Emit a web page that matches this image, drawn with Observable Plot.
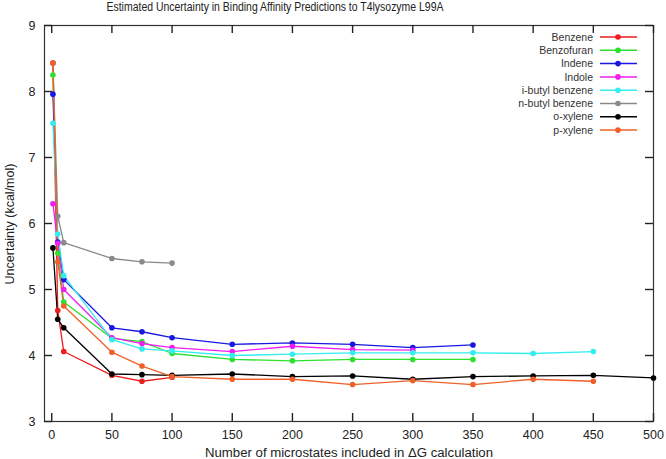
<!DOCTYPE html>
<html><head><meta charset="utf-8">
<script src="https://cdn.jsdelivr.net/npm/d3@7"></script>
<script src="https://cdn.jsdelivr.net/npm/@observablehq/plot@0.6"></script>
<style>body{margin:0;background:#fff;} #chart svg{display:block;}</style>
</head><body><div id="chart"></div>
<script>
const series = ["Benzene","Benzofuran","Indene","Indole","i-butyl benzene","n-butyl benzene","o-xylene","p-xylene"];
const colors = ["#ee1d1d","#2ee02e","#1717e0","#f01ff0","#33eeee","#8a8a8a","#000000","#f0602a"];
const microstates = [1,5,10,50,75,100,150,200,250,300,350,400,450,500];
const benzene    = [8.43,4.68,4.06,3.70,3.61,3.67];
const benzofuran = [8.25,5.55,4.81,4.26,4.21,4.03,3.94,3.92,3.94,3.94,3.94];
const indene     = [7.96,5.72,5.15,4.42,4.36,4.27,4.17,4.19,4.17,4.12,4.16];
const indole     = [6.30,5.70,5.00,4.27,4.18,4.12,4.06,4.14,4.09,4.08];
const ibutyl     = [7.52,5.84,5.21,4.24,4.10,4.07,4.00,4.02,4.04,4.04,4.04,4.03,4.06];
const nbutyl     = [8.43,6.11,5.71,5.47,5.42,5.40];
const oxylene    = [5.63,4.55,4.42,3.72,3.71,3.70,3.72,3.68,3.69,3.64,3.68,3.69,3.70,3.66];
const pxylene    = [8.43,5.42,4.75,4.05,3.84,3.68,3.64,3.64,3.56,3.62,3.56,3.64,3.61];
const xTicks = [0,50,100,150,200,250,300,350,400,450,500];
const yTicks = [3,4,5,6,7,8,9];
const title = "Estimated Uncertainty in Binding Affinity Predictions to T4lysozyme L99A";
const xLabel = "Number of microstates included in \u0394G calculation";
const yLabel = "Uncertainty (kcal/mol)";

const values = [benzene, benzofuran, indene, indole, ibutyl, nbutyl, oxylene, pxylene];
const rows = [];
series.forEach((s, i) => values[i].forEach((v, j) => rows.push({series: s, x: microstates[j], y: v})));

const W = 666, H = 459, mL = 44, mR = 13, mT = 25, mB = 38, TICK = 8;
const innerW = W - mL - mR, innerH = H - mT - mB;
const font = "'Liberation Sans', Arial, Helvetica, sans-serif";
const tk = {stroke: "#222", strokeWidth: 1.4};
const plot = Plot.plot({
  width: W, height: H,
  marginLeft: mL, marginRight: mR, marginTop: mT, marginBottom: mB,
  style: {fontFamily: font, fontSize: "12px", color: "#222", background: "#fff"},
  x: {domain: [-6, 500], label: null},
  y: {domain: [3, 9], label: null},
  color: {domain: series, range: colors},
  marks: [
    Plot.axisX(xTicks, {anchor: "bottom", tickSize: 0, tickPadding: 9, fontSize: 12.5, label: null, tickFormat: "d"}),
    Plot.axisY(yTicks, {anchor: "left", tickSize: 0, tickPadding: 9, fontSize: 12.5, label: null, tickFormat: "d"}),
    Plot.frame({stroke: "#333", strokeWidth: 1.2}),
    Plot.ruleX(xTicks, {x: d => d, y1: 3, y2: 3 + TICK * 6 / innerH, ...tk}),
    Plot.ruleX(xTicks, {x: d => d, y1: 9 - TICK * 6 / innerH, y2: 9, ...tk}),
    Plot.ruleY(yTicks, {y: d => d, x1: -6, x2: -6 + TICK * 506 / innerW, ...tk}),
    Plot.ruleY(yTicks, {y: d => d, x1: 500 - TICK * 506 / innerW, x2: 500, ...tk}),
    Plot.line(rows, {x: "x", y: "y", z: "series", stroke: "series", strokeWidth: 1.3}),
    Plot.dot(rows, {x: "x", y: "y", fill: "series", r: 2.8})
  ]
});
document.getElementById("chart").appendChild(plot);

const svg = d3.select(plot);
svg.append("text").attr("x", 275).attr("y", 10.5).attr("text-anchor", "middle")
  .attr("font-size", 12).attr("font-family", font).attr("fill", "#222")
  .attr("textLength", 337).attr("lengthAdjust", "spacingAndGlyphs").text(title);
svg.append("text").attr("x", 349).attr("y", 457).attr("text-anchor", "middle")
  .attr("font-size", 12.5).attr("font-family", font).attr("fill", "#222")
  .attr("textLength", 288).attr("lengthAdjust", "spacingAndGlyphs").text(xLabel);
svg.append("text").attr("transform", "translate(14,224) rotate(-90)").attr("text-anchor", "middle")
  .attr("font-size", 12.5).attr("font-family", font).attr("fill", "#222").text(yLabel);

const lg = svg.append("g").attr("font-family", font).attr("font-size", 10.5).attr("fill", "#333");
series.forEach((s, i) => {
  const y = 37 + i * 13.3;
  lg.append("text").attr("x", 593).attr("y", y).attr("dy", "0.35em").attr("text-anchor", "end").text(s);
  lg.append("line").attr("x1", 600).attr("x2", 637).attr("y1", y).attr("y2", y).attr("stroke", colors[i]).attr("stroke-width", 1.5);
  lg.append("circle").attr("cx", 618).attr("cy", y).attr("r", 2.8).attr("fill", colors[i]);
});
</script>
</body></html>
